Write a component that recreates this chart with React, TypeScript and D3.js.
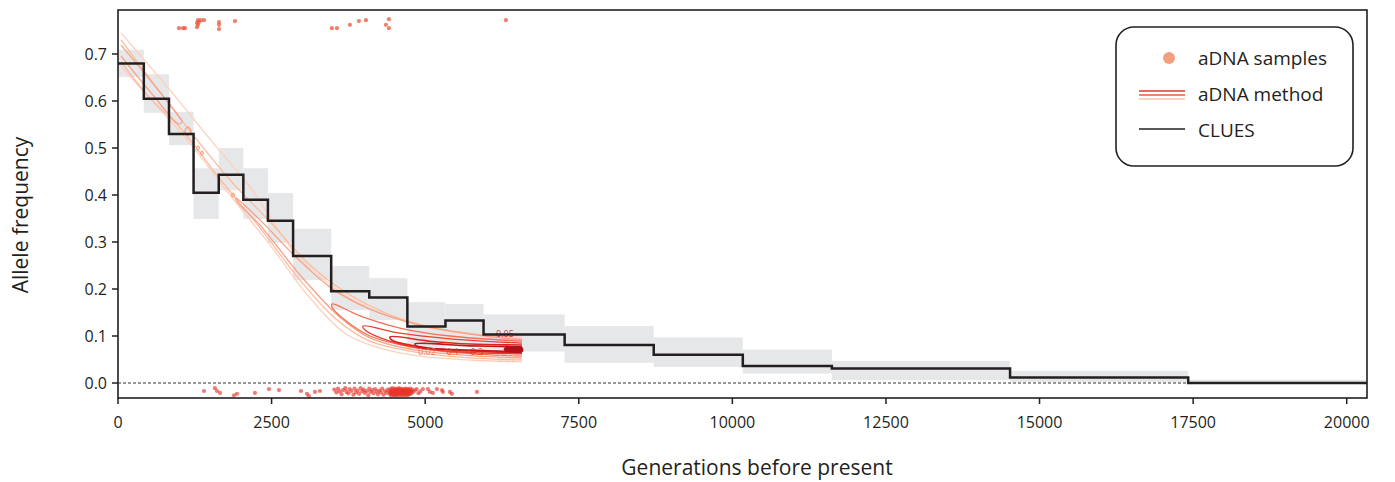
import React from 'react';
import * as d3 from 'd3';

// ---------- DATA ----------
const epochStarts = [0, 420, 830, 1230, 1640, 2040, 2440, 2850, 3470, 4090, 4710, 5330, 5950, 7270, 8720, 10170, 11620, 14520, 17420];
const epochEnd = 20330;
const cluesFreq = [0.68, 0.605, 0.53, 0.405, 0.443, 0.39, 0.345, 0.27, 0.195, 0.182, 0.12, 0.133, 0.103, 0.081, 0.06, 0.036, 0.031, 0.0115, 0.0];
const cluesLow = [0.651, 0.575, 0.506, 0.349, 0.41, 0.349, 0.298, 0.219, 0.155, 0.134, 0.072, 0.078, 0.067, 0.043, 0.034, 0.02, 0.006, 0.002, -0.001];
const cluesHigh = [0.709, 0.657, 0.577, 0.457, 0.5, 0.457, 0.404, 0.328, 0.249, 0.223, 0.172, 0.168, 0.146, 0.121, 0.097, 0.071, 0.047, 0.026, 0.007];

const xTicks = [0, 2500, 5000, 7500, 10000, 12500, 15000, 17500, 20000];
const yTicks = [0, 0.1, 0.2, 0.3, 0.4, 0.5, 0.6, 0.7];

const topSamples: [number, number][] = [
  [993, 0.755], [1058, 0.755], [1090, 0.755], [1302, 0.772], [1318, 0.768], [1286, 0.766], [1302, 0.762],
  [1286, 0.757], [1351, 0.772], [1400, 0.772], [1644, 0.768], [1644, 0.762], [1644, 0.753], [1904, 0.770],
  [3482, 0.755], [3564, 0.755], [3775, 0.762], [3922, 0.770], [4036, 0.772], [4361, 0.762], [4410, 0.774],
  [4410, 0.755], [6314, 0.772],
];

const bottomSamples: [number, number][] = [
  [1400, -0.017], [1578, -0.011], [1611, -0.017], [1660, -0.021], [1888, -0.026], [1937, -0.023], [2229, -0.021],
  [2457, -0.013], [2620, -0.015], [2978, -0.017], [3076, -0.023], [3108, -0.028], [3206, -0.019], [3287, -0.017],
  [3520, -0.014], [3555, -0.020], [3580, -0.012], [3610, -0.018], [3640, -0.024], [3665, -0.015], [3700, -0.011],
  [3720, -0.019], [3750, -0.022], [3770, -0.013], [3800, -0.017], [3830, -0.025], [3850, -0.012], [3870, -0.020],
  [3900, -0.016], [3925, -0.023], [3950, -0.011], [3975, -0.018], [4000, -0.014], [4020, -0.021], [4050, -0.017],
  [4075, -0.026], [4090, -0.012], [4110, -0.019], [4140, -0.015], [4160, -0.022], [4185, -0.013], [4210, -0.018],
  [4230, -0.024], [4255, -0.016], [4280, -0.020], [4300, -0.012], [4320, -0.025], [4345, -0.017], [4370, -0.021],
  [4390, -0.014],
  [4420, -0.018], [4428, -0.024], [4435, -0.013], [4440, -0.020], [4448, -0.027], [4455, -0.016], [4460, -0.022],
  [4466, -0.011], [4472, -0.019], [4478, -0.025], [4485, -0.014], [4490, -0.021], [4496, -0.017], [4502, -0.027],
  [4508, -0.012], [4514, -0.023], [4520, -0.018], [4526, -0.015], [4532, -0.026], [4538, -0.020], [4544, -0.013],
  [4550, -0.024], [4556, -0.017], [4562, -0.021], [4568, -0.011], [4574, -0.027], [4580, -0.019], [4586, -0.014],
  [4592, -0.022], [4598, -0.016], [4604, -0.025], [4610, -0.012], [4616, -0.020], [4622, -0.018], [4628, -0.026],
  [4634, -0.015], [4640, -0.023], [4646, -0.013], [4652, -0.021], [4658, -0.017], [4664, -0.027], [4670, -0.014],
  [4676, -0.022], [4682, -0.019], [4688, -0.012], [4694, -0.024], [4700, -0.016], [4706, -0.020], [4712, -0.026],
  [4718, -0.013], [4724, -0.021], [4730, -0.018], [4736, -0.024], [4742, -0.015], [4748, -0.020], [4756, -0.012],
  [4764, -0.023], [4772, -0.017], [4780, -0.021], [4790, -0.014], [4800, -0.019],
  [4425, -0.021], [4452, -0.019], [4481, -0.023], [4511, -0.016], [4541, -0.022], [4571, -0.018], [4601, -0.021],
  [4631, -0.019], [4661, -0.022], [4691, -0.017], [4721, -0.023], [4751, -0.018],
  [4830, -0.016], [4860, -0.013], [4890, -0.022], [4920, -0.018],
  [4963, -0.013], [5045, -0.013], [5077, -0.019], [5126, -0.021], [5191, -0.013], [5273, -0.015], [5289, -0.019],
  [5403, -0.019], [5435, -0.023], [5842, -0.019],
];

// contour lines of the aDNA posterior (level index 0 = outermost)
const contourOuterUpper: [number, number][] = [[49, 0.745], [846, 0.623], [1546, 0.511], [2148, 0.417], [2913, 0.272], [3613, 0.194], [4264, 0.149], [5077, 0.117], [5891, 0.102], [6575, 0.098]];
const contourOuterLower: [number, number][] = [[49, 0.672], [651, 0.587], [1220, 0.502], [1823, 0.400], [2474, 0.294], [3125, 0.181], [3694, 0.106], [4264, 0.074], [4915, 0.057], [5728, 0.049], [6575, 0.045]];
const contour2Upper: [number, number][] = [[49, 0.730], [1058, 0.555], [1823, 0.432], [2474, 0.343], [3125, 0.251], [3694, 0.194], [4426, 0.145], [5240, 0.115], [6575, 0.094]];
const contour2Lower: [number, number][] = [[49, 0.683], [521, 0.606], [1009, 0.543], [1660, 0.434], [2311, 0.330], [2962, 0.219], [3531, 0.138], [4101, 0.089], [4752, 0.068], [5565, 0.055], [6575, 0.049]];
const contour3Island: [number, number][] = [[49, 0.719], [521, 0.645], [976, 0.570], [1041, 0.557], [993, 0.551], [553, 0.615], [49, 0.696]];
const contour3Ring: [number, number][] = [[1090, 0.536], [1139, 0.545], [1188, 0.536], [1139, 0.527]];
const contour3DotA: [number, number][] = [[1280, 0.500], [1302, 0.504], [1324, 0.500], [1302, 0.496]];
const contour3DotB: [number, number][] = [[1345, 0.489], [1367, 0.493], [1389, 0.489], [1367, 0.485]];
const contour3DotC: [number, number][] = [[1849, 0.400], [1871, 0.404], [1893, 0.400], [1871, 0.396]];
const contour3Tail: [number, number][] = [[6575, 0.091], [5728, 0.104], [4915, 0.123], [4101, 0.157], [3450, 0.204], [2913, 0.266], [2311, 0.347], [1960, 0.390], [1915, 0.394], [1950, 0.384], [2311, 0.336], [2962, 0.230], [3613, 0.140], [4101, 0.096], [4752, 0.072], [5565, 0.060], [6575, 0.053]];
const contour4: [number, number][] = [[6575, 0.089], [5403, 0.100], [4589, 0.117], [3938, 0.143], [3483, 0.168], [3490, 0.160], [3694, 0.134], [4101, 0.100], [4752, 0.077], [5565, 0.064], [6575, 0.057]];
const contour5: [number, number][] = [[6575, 0.085], [5403, 0.094], [4589, 0.106], [3987, 0.121], [4036, 0.111], [4426, 0.089], [4915, 0.074], [5565, 0.066], [6575, 0.062]];
const contour6: [number, number][] = [[6575, 0.081], [5728, 0.083], [5077, 0.089], [4426, 0.098], [4459, 0.091], [5077, 0.074], [5728, 0.068], [6575, 0.064]];
const contour7: [number, number][] = [[6575, 0.077], [5728, 0.079], [4833, 0.083], [4882, 0.077], [5728, 0.070], [6575, 0.066]];
const contour8: [number, number][] = [[6298, 0.074], [6575, 0.075], [6575, 0.067], [6298, 0.070]];

const contourLines = [
  { level: 0, pts: contourOuterUpper, closed: false },
  { level: 0, pts: contourOuterLower, closed: false },
  { level: 1, pts: contour2Upper, closed: false },
  { level: 1, pts: contour2Lower, closed: false },
  { level: 2, pts: contour3Island, closed: false },
  { level: 2, pts: contour3Ring, closed: true },
  { level: 2, pts: contour3DotA, closed: true },
  { level: 2, pts: contour3DotB, closed: true },
  { level: 2, pts: contour3DotC, closed: true },
  { level: 2, pts: contour3Tail, closed: false },
  { level: 3, pts: contour4, closed: false },
  { level: 4, pts: contour5, closed: false },
  { level: 5, pts: contour6, closed: false },
  { level: 6, pts: contour7, closed: false },
  { level: 7, pts: contour8, closed: true },
];

const contourLabels: { text: string; gen: number; freq: number; level: number }[] = [
  { text: '0.02', gen: 5028, freq: 0.064, level: 3 },
  { text: '0.1', gen: 5452, freq: 0.064, level: 4 },
  { text: '0.3', gen: 5842, freq: 0.064, level: 5 },
  { text: '0.02', gen: 6330, freq: 0.050, level: 1 },
  { text: '0.05', gen: 6298, freq: 0.104, level: 6 },
];

const legendItems = ['aDNA samples', 'aDNA method', 'CLUES'];

// ---------- STYLE ----------
const contourColors = ['#fdd0bc', '#fbbba0', '#f8a184', '#f27257', '#e8432f', '#d92824', '#c2171b', '#b0121a'];
const FONT = "'Open Sans', 'Noto Sans', sans-serif";

export default function App() {
  const W = 1395, H = 482;
  const L = 118, R = 1367, T = 10, B = 398;
  const x = d3.scaleLinear().domain([0, epochEnd]).range([L, R]);
  const y = d3.scaleLinear().domain([-0.0319, 0.7936]).range([B, T]);

  const stepPts: [number, number][] = epochStarts.map((s, i) => [s, cluesFreq[i]] as [number, number]);
  stepPts.push([epochEnd, cluesFreq[cluesFreq.length - 1]]);
  const stepLine = d3.line<[number, number]>().x(d => x(d[0])).y(d => y(d[1])).curve(d3.curveStepAfter);

  const openLine = d3.line<[number, number]>().x(d => x(d[0])).y(d => y(d[1])).curve(d3.curveCatmullRom.alpha(0.5));
  const closedLine = d3.line<[number, number]>().x(d => x(d[0])).y(d => y(d[1])).curve(d3.curveCatmullRomClosed.alpha(0.5));

  return (
    <svg width={W} height={H} style={{ position: 'absolute', left: 0, top: 0, background: '#fff' }} fontFamily={FONT}>
      <defs>
        <clipPath id="plot"><rect x={L} y={T} width={R - L} height={B - T} /></clipPath>
      </defs>
      <g clipPath="url(#plot)">
        {/* CI bands */}
        {epochStarts.map((s, i) => {
          const e = i + 1 < epochStarts.length ? epochStarts[i + 1] : epochEnd;
          return <rect key={'b' + i} x={x(s)} width={x(e) - x(s)} y={y(cluesHigh[i])} height={y(cluesLow[i]) - y(cluesHigh[i])} fill="#e6e7e8" />;
        })}
        {/* zero line */}
        <line x1={x(0)} x2={x(epochEnd)} y1={y(0)} y2={y(0)} stroke="#333" strokeWidth={1} strokeDasharray="3,2" />
        {/* contours */}
        {contourLines.map((c, i) => (
          <path key={'c' + i} d={(c.closed ? closedLine : openLine)(c.pts) || ''}
            fill={c.level === 7 ? contourColors[c.level] : 'none'} stroke={contourColors[c.level]} strokeWidth={c.level >= 5 ? 1.6 : 1.3} />
        ))}
        {contourLabels.map((l, i) => (
          <text key={'cl' + i} x={x(l.gen)} y={y(l.freq)} fontSize={9} fill={contourColors[l.level]} textAnchor="middle" dominantBaseline="middle" opacity={0.85}>{l.text}</text>
        ))}
        {/* CLUES */}
        <path d={stepLine(stepPts) || ''} fill="none" stroke="#231f20" strokeWidth={2.5} />
        {/* aDNA samples */}
        {topSamples.map((d, i) => (
          <circle key={'t' + i} cx={x(d[0])} cy={y(d[1])} r={2.1} fill="#e8553d" opacity={0.75} />
        ))}
        {bottomSamples.map((d, i) => (
          <circle key={'s' + i} cx={x(d[0])} cy={y(d[1])} r={2.1} fill="#e6352a" opacity={0.65} />
        ))}
      </g>
      {/* frame */}
      <rect x={L} y={T} width={R - L} height={B - T} fill="none" stroke="#231f20" strokeWidth={1.6} />
      {/* x axis */}
      {xTicks.map(t => (
        <g key={'xt' + t}>
          <line x1={x(t)} x2={x(t)} y1={B} y2={B + 6} stroke="#231f20" strokeWidth={1.5} />
          <text x={x(t)} y={B + 30} fontSize={16} textAnchor="middle" fill="#231f20">{t}</text>
        </g>
      ))}
      {yTicks.map(t => (
        <g key={'yt' + t}>
          <line x1={L - 6} x2={L} y1={y(t)} y2={y(t)} stroke="#231f20" strokeWidth={1.5} />
          <text x={L - 11} y={y(t)} fontSize={16} textAnchor="end" dominantBaseline="central" fill="#231f20">{t.toFixed(1)}</text>
        </g>
      ))}
      <text x={757} y={475} fontSize={21} textAnchor="middle" fill="#231f20">Generations before present</text>
      <text transform={`translate(28, 215) rotate(-90)`} fontSize={21} textAnchor="middle" fill="#231f20">Allele frequency</text>
      {/* legend */}
      <g>
        <rect x={1116} y={27} width={237} height={139} rx={18} ry={18} fill="#fff" stroke="#231f20" strokeWidth={1.6} />
        <circle cx={1169} cy={58} r={6} fill="#f4a07f" />
        <line x1={1139} x2={1185} y1={91} y2={91} stroke="#dc3a30" strokeWidth={1.5} />
        <line x1={1139} x2={1185} y1={95} y2={95} stroke="#ec5a46" strokeWidth={1.5} />
        <line x1={1139} x2={1185} y1={99} y2={99} stroke="#fbc3aa" strokeWidth={1.5} />
        <line x1={1139} x2={1185} y1={129} y2={129} stroke="#231f20" strokeWidth={1.5} />
        {legendItems.map((t, i) => (
          <text key={'lg' + i} x={1198} y={58 + i * 36} fontSize={19} dominantBaseline="central" fill="#231f20">{t}</text>
        ))}
      </g>
    </svg>
  );
}
